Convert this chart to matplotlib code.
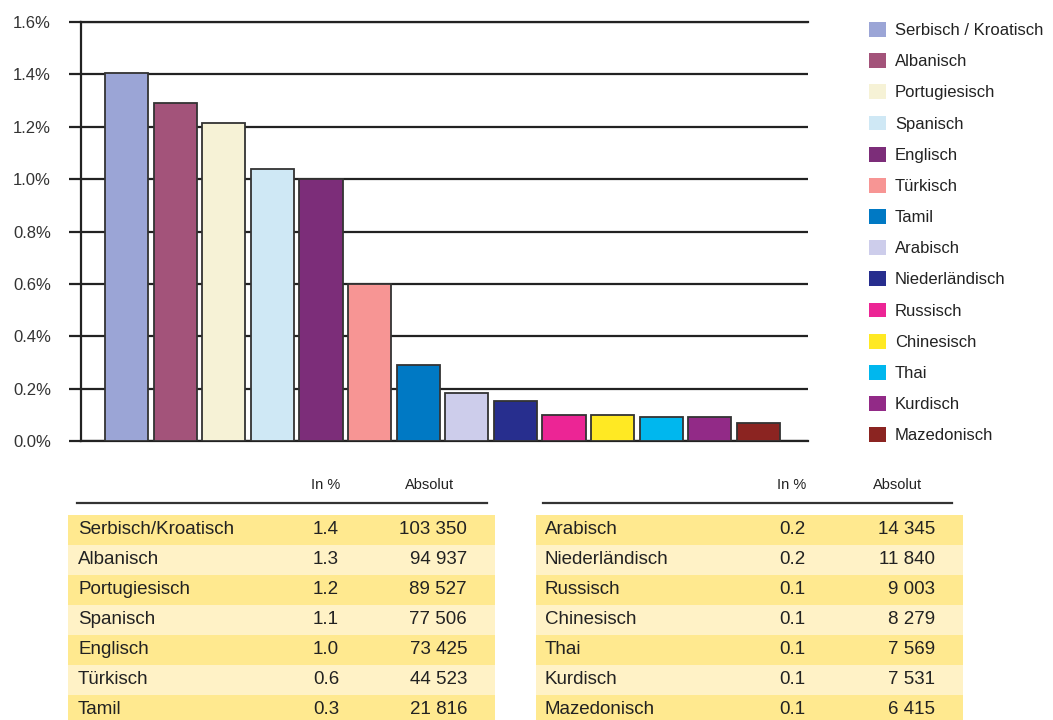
import matplotlib
matplotlib.use("Agg")
import matplotlib.pyplot as plt
from matplotlib.patches import Patch, Rectangle

plt.rcParams['font.family'] = ['Liberation Sans', 'DejaVu Sans']

# legend / bar chart data
languages = ['Serbisch / Kroatisch', 'Albanisch', 'Portugiesisch', 'Spanisch', 'Englisch',
             'Türkisch', 'Tamil', 'Arabisch', 'Niederländisch', 'Russisch', 'Chinesisch',
             'Thai', 'Kurdisch', 'Mazedonisch']
share = [1.405, 1.29, 1.215, 1.04, 1.0, 0.60, 0.29, 0.183, 0.153, 0.099, 0.099, 0.092, 0.092, 0.069]
colors = ['#9ba5d6', '#a3537a', '#f6f2d6', '#cfe8f5', '#7c2d79', '#f79594', '#0079c4',
          '#cdcdeb', '#272e8e', '#ec2595', '#ffe923', '#00b7ee', '#922a87', '#8b2421']
yticks = [0.0, 0.2, 0.4, 0.6, 0.8, 1.0, 1.2, 1.4, 1.6]

# table data
left_names = ['Serbisch/Kroatisch', 'Albanisch', 'Portugiesisch', 'Spanisch', 'Englisch', 'Türkisch', 'Tamil']
left_pct = ['1.4', '1.3', '1.2', '1.1', '1.0', '0.6', '0.3']
left_abs = ['103 350', '94 937', '89 527', '77 506', '73 425', '44 523', '21 816']
right_names = ['Arabisch', 'Niederländisch', 'Russisch', 'Chinesisch', 'Thai', 'Kurdisch', 'Mazedonisch']
right_pct = ['0.2', '0.2', '0.1', '0.1', '0.1', '0.1', '0.1']
right_abs = ['14 345', '11 840', '9 003', '8 279', '7 569', '7 531', '6 415']

W, H = 1053, 720
fig = plt.figure(figsize=(W / 100, H / 100), dpi=100)

# bar chart
ax = fig.add_axes([81 / W, 1 - 441 / H, (808 - 81) / W, (441 - 22) / H])
x = list(range(len(share)))
ax.bar(x, share, width=0.89, color=colors, edgecolor='#333333', linewidth=1.3, zorder=3)
ax.set_xlim(-0.94, 14.02)
ax.set_ylim(0, 1.6)
ax.set_yticks(yticks)
ax.set_yticklabels(['%.1f%%' % t for t in yticks], fontsize=12, color='#333333')
ax.set_xticks([])
ax.yaxis.grid(True, color='#222222', linewidth=1.6)
ax.set_axisbelow(True)
for s in ['top', 'bottom']:
    ax.spines[s].set_color('#222222')
    ax.spines[s].set_linewidth(1.6)
ax.spines['right'].set_visible(False)
ax.spines['left'].set_color('#222222')
ax.spines['left'].set_linewidth(1.6)
ax.tick_params(axis='y', length=8.6, width=1.6, color='#222222', pad=13)

handles = [Patch(facecolor=c, edgecolor='none') for c in colors]
fig.legend(handles, languages, loc='upper left', bbox_to_anchor=(869 / W, 1 - 22 / H),
           frameon=False, fontsize=12, handlelength=1.0, handleheight=1.0,
           handletextpad=0.55, labelspacing=0.9, borderpad=0, borderaxespad=0,
           labelcolor='#222222')

# tables on an overlay axes in pixel units
tx = fig.add_axes([0, 0, 1, 1])
tx.set_xlim(0, W)
tx.set_ylim(H, 0)
tx.axis('off')

row_h = 30
top = 515
dark, light = '#ffe98f', '#fff2c6'

def draw_table(x0, x1, rule0, rule1, name_x, pct_x, abs_x, names, pct, absv):
    tx.text(pct_x, 485, 'In %', ha='center', va='center', fontsize=10.5, color='#222222')
    tx.text(abs_x - 37, 485, 'Absolut', ha='center', va='center', fontsize=10.5, color='#222222')
    tx.plot([rule0, rule1], [503, 503], color='#333333', linewidth=1.6)
    for i, (n, p, a) in enumerate(zip(names, pct, absv)):
        y = top + i * row_h
        tx.add_patch(Rectangle((x0, y), x1 - x0, row_h, facecolor=dark if i % 2 == 0 else light,
                               edgecolor='none'))
        yc = y + row_h / 2
        tx.text(name_x, yc, n, ha='left', va='center', fontsize=13.5, color='#222222')
        tx.text(pct_x, yc, p, ha='center', va='center', fontsize=13.5, color='#222222')
        tx.text(abs_x, yc, a, ha='right', va='center', fontsize=13.5, color='#222222')

draw_table(68, 495, 77, 487, 78, 326, 467, left_names, left_pct, left_abs)
draw_table(536, 963, 543, 952, 545, 792, 935, right_names, right_pct, right_abs)

fig.savefig('out.png', dpi=100)
